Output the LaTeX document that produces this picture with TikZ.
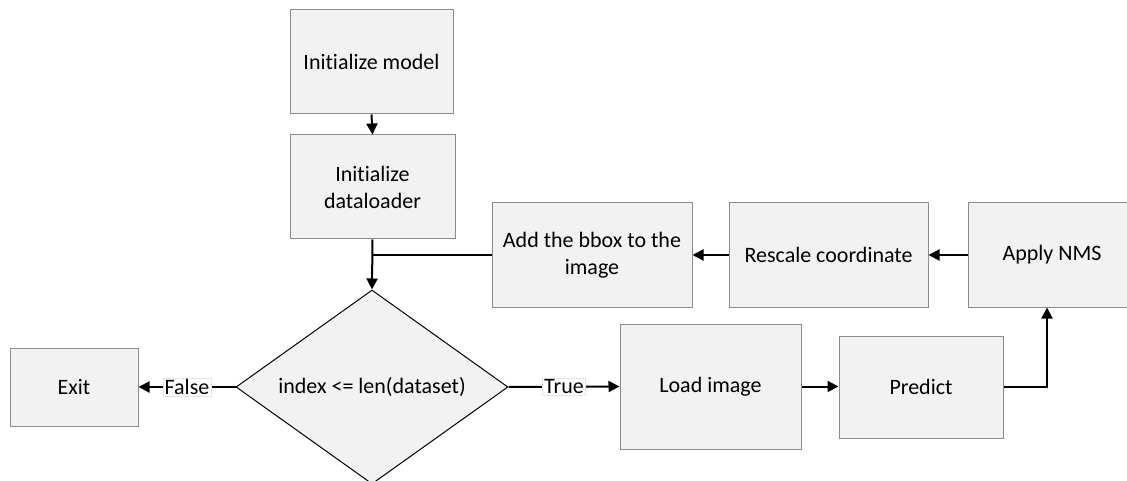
\documentclass[tikz,border=0pt]{standalone}
\usepackage{fontspec}
\setmainfont{Carlito}[Ligatures=NoCommon]
\usepackage{tikz}
\usetikzlibrary{positioning, shapes.geometric, arrows.meta}

\definecolor{boxfill}{HTML}{F2F2F2}
\definecolor{boxline}{HTML}{8C8C8C}

\begin{document}
\begin{tikzpicture}[x=1pt, y=-1pt,
    box/.style={draw=boxline, fill=boxfill, line width=1pt, align=center, inner sep=2pt},
    decision/.style={diamond, aspect=1.4, draw=black, fill=boxfill, line width=1pt, minimum width=272pt, minimum height=194pt, inner sep=0pt},
    flow/.style={line width=2pt, -{Triangle[length=11pt, width=11pt]}},
    tag/.style={fill=white, draw=gray!20, line width=0.5pt, inner sep=1.5pt}]
    \fontsize{22}{27}\selectfont
    \useasboundingbox (0,0) rectangle (1127,481);

    % Boxes
    \node[box, minimum width=163pt, minimum height=104pt] (model) at (371.5,62) {Initialize model};
    \node[box, minimum width=165pt, minimum height=104pt] (loader) at (372.5,187) {Initialize\\dataloader};
    \node[box, minimum width=200pt, minimum height=104pt] (bbox) at (592,255) {Add the bbox to the\\image};
    \node[box, minimum width=199pt, minimum height=104pt] (rescale) at (828.5,255) {Rescale coordinate};
    \node[box, minimum width=168pt, minimum height=104pt] (nms) at (1052,255) {Apply NMS};
    \node[decision] (cond) at (372,387) {index <= len(dataset)};
    \node[box, minimum width=128pt, minimum height=78pt] (exit) at (74,387) {Exit};
    \node[box, minimum width=181pt, minimum height=125pt] (load) at (710.5,386.5) {Load image};
    \node[box, minimum width=164pt, minimum height=102pt] (predict) at (921,387) {Predict};

    % Connectors
    \foreach \a/\b in {model/loader, loader/cond}
      \draw[flow] (\a.south) -- (\b.north);
    \foreach \a/\b in {nms/rescale, rescale/bbox}
      \draw[flow] (\a.west) -- (\b.east);
    \draw[line width=2pt] (bbox.west) -- (cond.north |- bbox.west);
    \draw[flow] (cond.west) -- node[tag] {False} (exit.east);
    \draw[flow] (cond.east) -- node[tag] {True} (load.west);
    \draw[flow] (load.east) -- (load.east -| predict.west);
    \draw[flow] (predict.east) -| ([xshift=-5pt]nms.south);

\end{tikzpicture}
\end{document}
